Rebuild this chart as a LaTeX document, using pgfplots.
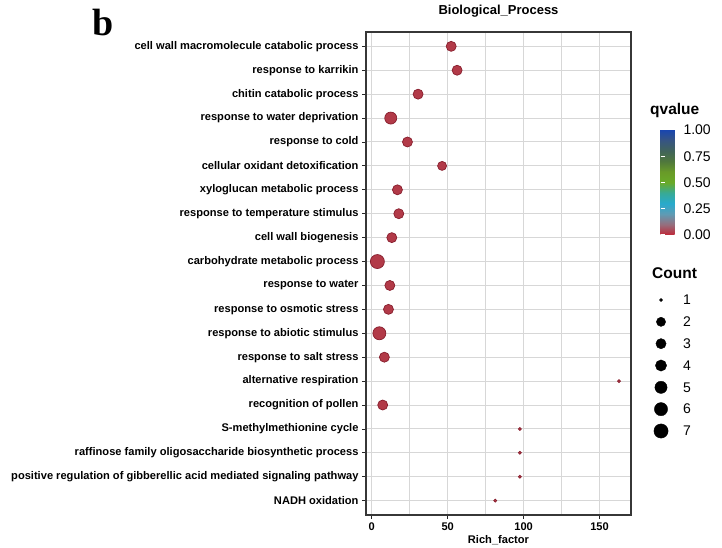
\documentclass[border=0pt]{standalone}
\usepackage{fontspec}
\setmainfont{Liberation Sans}
\newfontfamily\serifb{Liberation Serif}
\usepackage{pgfplots}
\usepackage{pgfplotstable}
\pgfplotsset{compat=1.18}

\definecolor{ptfill}{RGB}{178,58,72}
\definecolor{ptedge}{RGB}{135,30,45}
\definecolor{gridc}{RGB}{215,215,215}
\definecolor{framec}{RGB}{55,55,55}

\pgfplotsset{colormap={qcol}{rgb255(0cm)=(192,40,56) rgb255(1cm)=(150,110,125) rgb255(2cm)=(95,155,180) rgb255(3cm)=(40,170,205) rgb255(4cm)=(55,170,150) rgb255(5cm)=(105,170,40) rgb255(6cm)=(105,155,40) rgb255(7cm)=(80,120,60) rgb255(8cm)=(65,100,90) rgb255(9cm)=(55,85,130) rgb255(10cm)=(25,70,175)}}

% y: row (1 = bottom), rich: Rich_factor, count: gene count, q: qvalue
\pgfplotstableread{
y rich count q
20 52.3 3 0.00
19 56.2 3 0.00
18 30.5 3 0.00
17 12.5 5 0.00
16 23.5 3 0.00
15 46.3 2 0.00
14 16.9 3 0.00
13 17.8 3 0.00
12 13.2 3 0.00
11 3.7 7 0.00
10 11.9 3 0.00
9 11.0 3 0.00
8 5.0 6 0.00
7 8.3 3 0.00
6 162.8 1 0.00
5 7.2 3 0.00
4 97.5 1 0.00
3 97.5 1 0.00
2 97.5 1 0.00
1 81.3 1 0.00
}\godata

\pgfplotstableread{
x y count
0.5 1 1
0.5 2 2
0.5 3 3
0.5 4 4
0.5 5 5
0.5 6 6
0.5 7 7
}\cntdata

\begin{document}
\begin{tikzpicture}
\useasboundingbox (0,0) rectangle (722bp,548bp);
\begin{axis}[
  at={(366bp,33bp)}, anchor=south west,
  scale only axis, width=265bp, height=483bp,
  xmin=-3.8, xmax=170.7, ymin=0.4, ymax=20.6,
  xtick={0,50,100,150}, minor xtick={25,75,125},
  ytick={1,...,20},
  yticklabels={{NADH oxidation},{positive regulation of gibberellic acid mediated signaling pathway},{raffinose family oligosaccharide biosynthetic process},{S-methylmethionine cycle},{recognition of pollen},{alternative respiration},{response to salt stress},{response to abiotic stimulus},{response to osmotic stress},{response to water},{carbohydrate metabolic process},{cell wall biogenesis},{response to temperature stimulus},{xyloglucan metabolic process},{cellular oxidant detoxification},{response to cold},{response to water deprivation},{chitin catabolic process},{response to karrikin},{cell wall macromolecule catabolic process}},
  grid=both,
  major grid style={gridc, line width=1bp},
  minor grid style={gridc, line width=1bp},
  tick align=outside, major tick length=4bp, minor tick length=0pt,
  tick style={black!85, line width=0.8bp},
  xtick pos=bottom, ytick pos=left,
  axis line style={framec, line width=1.3bp},
  ticklabel style={font=\fontsize{11.1bp}{13bp}\selectfont\bfseries},
  /pgf/number format/assume math mode=true,
  xlabel={Rich\_factor},
  xlabel style={font=\fontsize{11.1bp}{13bp}\selectfont\bfseries, at={(0.5,0)}, anchor=base, yshift=-29bp},
  title={Biological\_Process},
  title style={font=\fontsize{13bp}{15bp}\selectfont\bfseries, at={(0.5,1)}, anchor=base, yshift=12bp},
  point meta min=0, point meta max=1,
  colormap name=qcol,
  colorbar,
  colorbar style={
    at={(parent axis.north east)}, anchor=north west,
    xshift=21bp, yshift=-98bp,
    width=21bp, height=105bp,
    ytick={0,0.25,0.5,0.75,1},
    yticklabel pos=right, ytick pos=both,
    yticklabel style={font=\fontsize{14bp}{16bp}\selectfont, xshift=-1.5bp, /pgf/number format/.cd, fixed, fixed zerofill, precision=2, assume math mode=true},
    major tick length=4bp, tick align=inside,
    tick style={white, line width=1bp},
    axis line style={draw=none},
    axis on top,
  },
  clip=false,
]
\addplot[scatter, only marks, mark=*,
  scatter/use mapped color={draw=ptedge, fill=ptfill},
  mark options={line width=0.7bp},
  visualization depends on={\thisrow{count} \as \cnt},
  scatter/@pre marker code/.append code={%
    \pgfmathparse{ifthenelse(\cnt==1,1.5,3.5+0.5*\cnt)}%
    \pgfkeysalso{/tikz/mark size=\pgfmathresult bp}},
  point meta=explicit]
  table[x=rich, y=y, meta=q] {\godata};
\end{axis}

\begin{axis}[
  at={(641bp,117bp)}, anchor=south west,
  scale only axis, width=40bp, height=131bp,
  xmin=0, xmax=1, ymin=1, ymax=7, y dir=reverse,
  axis line style={draw=none}, tick style={draw=none},
  xtick=\empty, ytick={1,...,7},
  yticklabel pos=right, ytick pos=right,
  yticklabel style={font=\fontsize{14bp}{16bp}\selectfont, anchor=west, xshift=-1.5bp},
  /pgf/number format/assume math mode=true,
  clip=false,
]
\addplot[scatter, only marks, mark=*,
  scatter/use mapped color={draw=black, fill=black},
  visualization depends on={\thisrow{count} \as \cnt},
  scatter/@pre marker code/.append code={%
    \pgfmathparse{ifthenelse(\cnt==1,1.5,3.6+0.5*\cnt)}%
    \pgfkeysalso{/tikz/mark size=\pgfmathresult bp}},
  point meta=explicit]
  table[x=x, y=y, meta=count] {\cntdata};
\end{axis}

\node[anchor=base west, font=\fontsize{15.5bp}{17bp}\selectfont\bfseries, inner sep=0] at (650bp,433bp) {qvalue};
\node[anchor=base west, font=\fontsize{15.5bp}{17bp}\selectfont\bfseries, inner sep=0] at (652bp,269bp) {Count};
\node[anchor=base west, font=\serifb\bfseries\fontsize{38bp}{40bp}\selectfont, inner sep=0] at (92bp,512bp) {b};
\end{tikzpicture}
\end{document}
